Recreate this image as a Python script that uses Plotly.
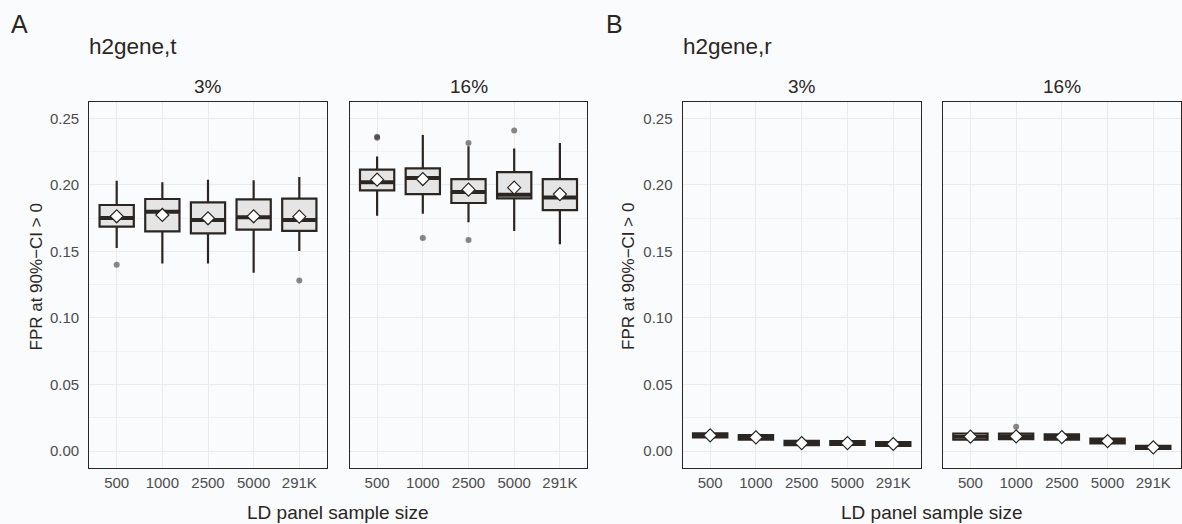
import plotly.graph_objects as go

# ---------------- data ----------------
ld_labels = ["500", "1000", "2500", "5000", "291K"]
positions = [1, 2, 3, 4, 5]
facet_labels = ["3%", "16%"]
panel_titles = ["h2gene,t", "h2gene,r"]
panel_tags = ["A", "B"]

# Panel A (h2gene,t), facet 3%
a3_lower = [0.1526, 0.1409, 0.1409, 0.1339, 0.1504]
a3_q1 = [0.1686, 0.1651, 0.1636, 0.1664, 0.1654]
a3_median = [0.1751, 0.1799, 0.1736, 0.1756, 0.1736]
a3_q3 = [0.1849, 0.1894, 0.1869, 0.1891, 0.1896]
a3_upper = [0.2031, 0.2019, 0.2039, 0.2034, 0.2059]
a3_mean = [0.1764, 0.1774, 0.1749, 0.1764, 0.1761]
a3_out_x = [1, 5]
a3_out_y = [0.1399, 0.1281]

# Panel A (h2gene,t), facet 16%
a16_lower = [0.1769, 0.1784, 0.1719, 0.1654, 0.1554]
a16_q1 = [0.1959, 0.1931, 0.1864, 0.1899, 0.1811]
a16_median = [0.2019, 0.2051, 0.1946, 0.1926, 0.1906]
a16_q3 = [0.2114, 0.2124, 0.2044, 0.2096, 0.2044]
a16_upper = [0.2214, 0.2374, 0.2290, 0.2274, 0.2314]
a16_mean = [0.2039, 0.2044, 0.1964, 0.1979, 0.1931]
a16_out_x = [1, 1, 2, 3, 3, 4]
a16_out_y = [0.2355, 0.2362, 0.1601, 0.2314, 0.1586, 0.2409]

# Panel B (h2gene,r), facet 3%
b3_lower = [0.0095, 0.0080, 0.0038, 0.0040, 0.0034]
b3_q1 = [0.0102, 0.0086, 0.0044, 0.0046, 0.0039]
b3_median = [0.0118, 0.0103, 0.0060, 0.0060, 0.0053]
b3_q3 = [0.0134, 0.0120, 0.0076, 0.0075, 0.0068]
b3_upper = [0.0140, 0.0126, 0.0082, 0.0080, 0.0072]
b3_mean = [0.0118, 0.0103, 0.0060, 0.0060, 0.0053]
b3_out_x = []
b3_out_y = []

# Panel B (h2gene,r), facet 16%
b16_lower = [0.0078, 0.0083, 0.0078, 0.0050, 0.0010]
b16_q1 = [0.0085, 0.0090, 0.0085, 0.0057, 0.0016]
b16_median = [0.0108, 0.0110, 0.0105, 0.0075, 0.0028]
b16_q3 = [0.0132, 0.0131, 0.0126, 0.0094, 0.0040]
b16_upper = [0.0139, 0.0138, 0.0133, 0.0100, 0.0046]
b16_mean = [0.0108, 0.0110, 0.0105, 0.0075, 0.0028]
b16_out_x = [2]
b16_out_y = [0.0183]

y_ticks = [0.0, 0.05, 0.10, 0.15, 0.20, 0.25]

# ---------------- style ----------------
W, H = 1182, 524
DARK = "#2b2622"
TICK_COL = "#4d4d4d"
BG = "#fafbfd"
GRID = "#ebebeb"
FONT = "Liberation Sans, Arial, sans-serif"
BOX_W = 0.75

def fx(p):
    return p / W

def fy(p):
    return 1 - p / H

# pixel extents of the four facet panels
panel_px = [(89.3, 326.7), (349.7, 587.3), (682.7, 920.7), (943.0, 1180.7)]
top_px, bot_px = 101.7, 467.7

panels = [
    (a3_lower, a3_q1, a3_median, a3_q3, a3_upper, a3_mean, a3_out_x, a3_out_y),
    (a16_lower, a16_q1, a16_median, a16_q3, a16_upper, a16_mean, a16_out_x, a16_out_y),
    (b3_lower, b3_q1, b3_median, b3_q3, b3_upper, b3_mean, b3_out_x, b3_out_y),
    (b16_lower, b16_q1, b16_median, b16_q3, b16_upper, b16_mean, b16_out_x, b16_out_y),
]

fig = go.Figure()
layout = {}

for i, (lo, q1, med, q3, up, mn, ox, oy) in enumerate(panels):
    sfx = "" if i == 0 else str(i + 1)
    xa, ya = "x" + sfx, "y" + sfx
    fig.add_trace(go.Box(
        x=positions, q1=q1, median=med, q3=q3, lowerfence=lo, upperfence=up,
        width=BOX_W, whiskerwidth=0, boxpoints=False,
        fillcolor="#e5e5e5", line=dict(color=DARK, width=2.2),
        xaxis=xa, yaxis=ya, showlegend=False, hoverinfo="skip"))
    mx, my = [], []
    for p, m in zip(positions, med):
        mx += [p - BOX_W / 2, p + BOX_W / 2, None]
        my += [m, m, None]
    fig.add_trace(go.Scatter(
        x=mx, y=my, mode="lines", line=dict(color=DARK, width=4),
        xaxis=xa, yaxis=ya, showlegend=False, hoverinfo="skip"))
    if ox:
        fig.add_trace(go.Scatter(
            x=ox, y=oy, mode="markers",
            marker=dict(size=6, color="rgba(43,38,34,0.55)", line=dict(width=0)),
            xaxis=xa, yaxis=ya, showlegend=False, hoverinfo="skip"))
    fig.add_trace(go.Scatter(
        x=positions, y=mn, mode="markers",
        marker=dict(symbol="diamond", size=10, color="white",
                    line=dict(color=DARK, width=1.2)),
        xaxis=xa, yaxis=ya, showlegend=False, hoverinfo="skip"))

    x0, x1 = panel_px[i]
    layout["xaxis" + sfx] = dict(
        domain=[fx(x0), fx(x1)], anchor=ya, range=[0.4, 5.6],
        tickmode="array", tickvals=positions, ticktext=ld_labels,
        showgrid=True, gridcolor=GRID, gridwidth=1, zeroline=False,
        showline=True, mirror=True, linecolor=DARK, linewidth=1.3,
        ticks="", ticklabelstandoff=1,
        tickfont=dict(size=15, color=TICK_COL, family=FONT))
    layout["yaxis" + sfx] = dict(
        domain=[fy(bot_px), fy(top_px)], anchor=xa, range=[-0.0125, 0.2625],
        tickmode="array", tickvals=y_ticks, ticktext=["%.2f" % v for v in y_ticks],
        showticklabels=(i % 2 == 0),
        showgrid=True, gridcolor=GRID, gridwidth=1, zeroline=False,
        minor=dict(dtick=0.025, tick0=0, showgrid=True, gridcolor="#f1f1f1",
                   gridwidth=0.7, ticks=""),
        showline=True, mirror=True, linecolor=DARK, linewidth=1.3,
        ticks="", ticklabelstandoff=6,
        tickfont=dict(size=15, color=TICK_COL, family=FONT))

annotations = []

def ann(text, x, y, size, xanchor="center", yanchor="middle", angle=0, color=DARK):
    annotations.append(dict(
        text=text, x=fx(x), y=fy(y), xref="paper", yref="paper",
        xanchor=xanchor, yanchor=yanchor, textangle=angle, showarrow=False,
        font=dict(size=size, color=color, family=FONT)))

# panel tags and titles
tag_x = [8.5, 603.5]
title_x = [86.5, 680.5]
for k in range(2):
    ann(panel_tags[k], tag_x[k], 24, 25, xanchor="left")
    ann(panel_titles[k], title_x[k], 47, 22.5, xanchor="left")
# facet strips
for i in range(4):
    x0, x1 = panel_px[i]
    ann(facet_labels[i % 2], (x0 + x1) / 2, 87, 19)
# axis titles
xt_centers = [(panel_px[0][0] + panel_px[1][1]) / 2, (panel_px[2][0] + panel_px[3][1]) / 2]
yt_x = [35.5, 628.0]
for k in range(2):
    ann("LD panel sample size", xt_centers[k], 512, 19)
    ann("FPR at 90%\u2212CI > 0", yt_x[k], 277, 17, angle=-90)

fig.update_layout(
    width=W, height=H, margin=dict(l=0, r=0, t=0, b=0),
    paper_bgcolor=BG, plot_bgcolor=BG, showlegend=False,
    font=dict(family=FONT, color=DARK),
    annotations=annotations, **layout)

fig.write_html(
    "out.html",
    config={"displayModeBar": False},
    post_script="document.body.style.margin='0';document.body.style.background='%s';" % BG)
